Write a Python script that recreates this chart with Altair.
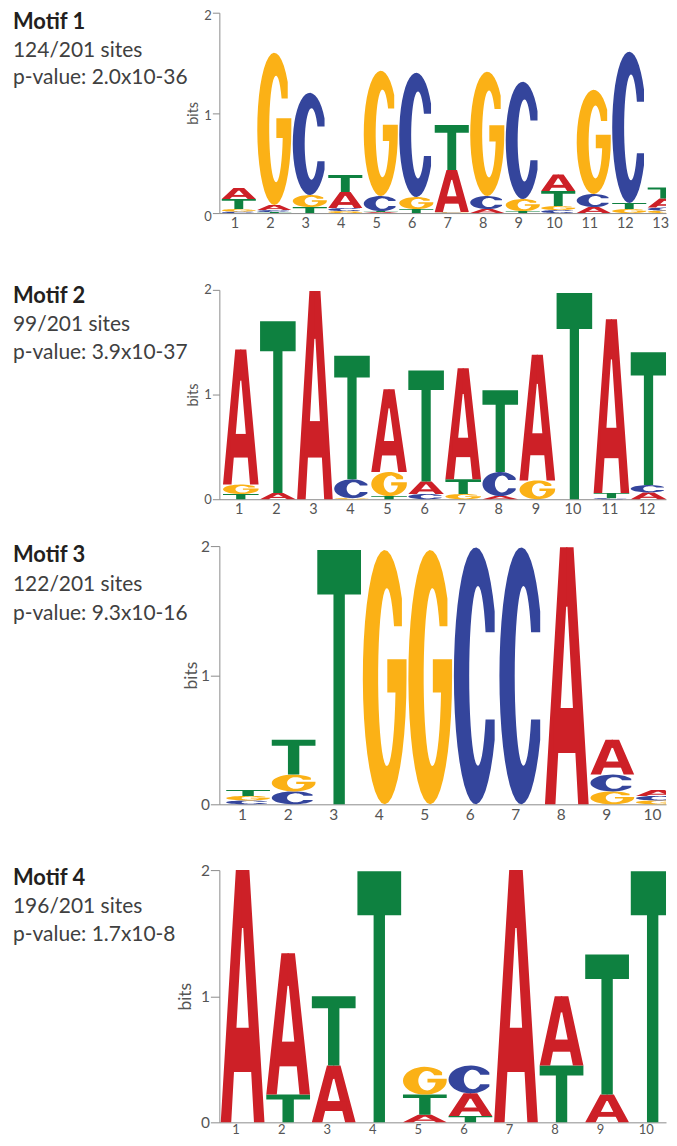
import math
import altair as alt
import pandas as pd

# ---------------- data ----------------
BASES = ["A", "C", "G", "T"]
BASE_COLORS = ["#CD2027", "#34459C", "#FBB116", "#0E8140"]

TITLES = ["Motif 1", "Motif 2", "Motif 3", "Motif 4"]
SITES = ["124/201 sites", "99/201 sites", "122/201 sites", "196/201 sites"]
PVALUES = ["p-value: 2.0x10-36", "p-value: 3.9x10-37",
           "p-value: 9.3x10-16", "p-value: 1.7x10-8"]

# information (bits) of each base at each motif position
M1_A = [0.11, 0.05, 0.00, 0.16, 0.01, 0.00, 0.42, 0.04, 0.00, 0.165, 0.06, 0.00, 0.09]
M1_C = [0.015, 0.02, 1.02, 0.03, 0.15, 1.24, 0.005, 0.13, 1.17, 0.03, 0.13, 1.51, 0.03]
M1_G = [0.025, 1.52, 0.12, 0.02, 1.25, 0.12, 0.005, 1.24, 0.12, 0.04, 1.04, 0.04, 0.025]
M1_T = [0.10, 0.01, 0.06, 0.17, 0.01, 0.04, 0.45, 0.00, 0.02, 0.15, 0.00, 0.06, 0.11]

M2_A = [1.29, 0.06, 1.99, 0.00, 0.79, 0.12, 1.06, 0.03, 1.20, 0.00, 1.66, 0.065]
M2_C = [0.00, 0.00, 0.00, 0.18, 0.00, 0.05, 0.00, 0.23, 0.00, 0.00, 0.01, 0.07]
M2_G = [0.09, 0.00, 0.00, 0.01, 0.23, 0.00, 0.05, 0.00, 0.18, 0.00, 0.00, 0.00]
M2_T = [0.05, 1.64, 0.00, 1.18, 0.03, 1.06, 0.14, 0.78, 0.00, 1.97, 0.05, 1.27]

M3_A = [0.00, 0.00, 0.00, 0.00, 0.00, 0.00, 0.00, 1.99, 0.27, 0.045]
M3_C = [0.03, 0.10, 0.00, 0.00, 0.00, 1.99, 1.99, 0.00, 0.13, 0.035]
M3_G = [0.035, 0.13, 0.00, 1.97, 1.97, 0.00, 0.00, 0.00, 0.10, 0.03]
M3_T = [0.045, 0.27, 1.97, 0.00, 0.00, 0.00, 0.00, 0.00, 0.00, 0.00]

M4_A = [2.00, 1.12, 0.45, 0.00, 0.06, 0.18, 2.00, 0.55, 0.22, 0.00]
M4_C = [0.00, 0.00, 0.00, 0.00, 0.00, 0.22, 0.00, 0.00, 0.00, 0.00]
M4_G = [0.00, 0.00, 0.00, 0.00, 0.22, 0.00, 0.00, 0.00, 0.00, 0.00]
M4_T = [0.00, 0.22, 0.55, 1.99, 0.16, 0.05, 0.00, 0.45, 1.11, 1.99]

MOTIFS = [
    (M1_A, M1_C, M1_G, M1_T),
    (M2_A, M2_C, M2_G, M2_T),
    (M3_A, M3_C, M3_G, M3_T),
    (M4_A, M4_C, M4_G, M4_T),
]

# ---------------- layout / style ----------------
FONT = "Lato"
LAYOUT = [
    dict(xdom=(0.452, 13.036), width=448, height=201, ytop=0, lab_off=-4.5, ylab_off=3,
         fy=13, fx=14.5, lpad=3, ft=14.5, tick=7, tpad=3, text_y=(16, 44, 72)),
    dict(xdom=(0.422, 12.472), width=448, height=287, ytop=77, lab_off=-2, ylab_off=0,
         fy=13, fx=14.5, lpad=3, ft=14.5, tick=7, tpad=3, text_y=(90, 118, 146)),
    dict(xdom=(0.369, 10.179), width=448, height=306, ytop=47, lab_off=-6, ylab_off=0,
         fy=15.5, fx=15.5, lpad=3, ft=17.5, tick=9, tpad=0, text_y=(63, 92, 121)),
    dict(xdom=(0.49, 10.293), width=448, height=319, ytop=66, lab_off=-7, ylab_off=0,
         fy=15.5, fx=13, lpad=1, ft=17.5, tick=9, tpad=6, text_y=(81, 109, 137)),
]
LETTER_W = 0.96


# ---------------- glyph outlines (unit box) ----------------
def arc(cx, cy, rx, ry, a0, a1, n=36):
    pts = []
    for i in range(n + 1):
        t = math.radians(a0 + (a1 - a0) * i / n)
        pts.append((cx + rx * math.cos(t), cy + ry * math.sin(t)))
    return pts


def glyph(base):
    if base == "T":
        return [[(0, 1), (1, 1), (1, 0.825), (0.63, 0.825), (0.63, 0),
                 (0.37, 0), (0.37, 0.825), (0, 0.825)]]
    if base == "A":
        left = [(0, 0), (0.24, 0), (0.485, 0.77), (0.515, 0.77), (0.515, 1), (0.345, 1)]
        right = [(1 - u, v) for u, v in left]
        bar = [(0.2, 0.2), (0.8, 0.2), (0.8, 0.375), (0.2, 0.375)]
        return [left, right, bar]
    icx, irx, iry = 0.55, 0.2, 0.35
    if base == "C":
        ai = math.degrees(math.asin(0.17 / iry))
        yt = 0.5 + iry * math.sin(math.radians(ai))
        outer = arc(0.5, 0.5, 0.5, 0.5, 30, 330)
        xo = outer[0][0]
        inner = arc(icx, 0.5, irx, iry, 360 - ai, ai)
        return [outer + [(xo, 1 - yt)] + inner + [(xo, yt)]]
    # G
    ai = math.degrees(math.asin(0.20 / iry))
    yt = 0.5 + iry * math.sin(math.radians(ai))
    outer = arc(0.5, 0.5, 0.5, 0.5, 38, 360)
    xo = outer[0][0]
    ab = math.degrees(math.asin((0.44 - 0.5) / iry))
    xb = icx + irx * math.cos(math.radians(ab))
    inner = arc(icx, 0.5, irx, iry, 360 + ab, ai)
    return [outer + [(1.0, 0.57), (0.56, 0.57), (0.56, 0.44), (xb, 0.44)] + inner + [(xo, yt)]]


def clip_right(poly, xmax):
    """Sutherland-Hodgman clip of a polygon to x <= xmax."""
    out = []
    n = len(poly)
    for i in range(n):
        cur, prev = poly[i], poly[i - 1]
        cin, pin = cur[0] <= xmax, prev[0] <= xmax
        if cin != pin:
            t = (xmax - prev[0]) / (cur[0] - prev[0])
            out.append((xmax, prev[1] + t * (cur[1] - prev[1])))
        if cin:
            out.append(cur)
    return out


def logo_frame(cols, xmax):
    rows = []
    pid = 0
    n = len(cols[0])
    for i in range(n):
        stack = sorted([(cols[b][i], BASES[b]) for b in range(4) if cols[b][i] > 0],
                       key=lambda s: s[0])
        y0 = 0.0
        for h, base in stack:
            for poly in glyph(base):
                pts = [((i + 1) - LETTER_W / 2 + u * LETTER_W, y0 + v * h) for u, v in poly]
                pts = clip_right(pts, xmax)
                if len(pts) < 3:
                    continue
                for k, (x, y) in enumerate(pts):
                    rows.append(dict(pid=pid, k=k, base=base, x=x, y=y))
                pid += 1
            y0 += h
    return pd.DataFrame(rows)


color_scale = alt.Scale(domain=BASES, range=BASE_COLORS)
panels = []
for m, cols in enumerate(MOTIFS):
    L = LAYOUT[m]
    n = len(cols[0])
    df = logo_frame(cols, L["xdom"][1])
    letters = alt.Chart(df).mark_line(
        filled=True, interpolate="linear-closed", strokeWidth=0
    ).encode(
        x=alt.X("x:Q",
                scale=alt.Scale(domain=list(L["xdom"]), nice=False, zero=False),
                axis=alt.Axis(values=list(range(1, n + 1)), format="d", title=None,
                              ticks=False, tickSize=0, labelPadding=L["lpad"],
                              labelOffset=L["lab_off"], labelFontSize=L["fx"],
                              labelColor="#555555", labelFont=FONT, grid=False,
                              domainColor="#8c8c8c", labelFlush=False,
                              labelOverlap=False)),
        y=alt.Y("y:Q",
                scale=alt.Scale(domain=[0, 2], range=[L["height"], L["ytop"]], nice=False),
                axis=alt.Axis(tickCount=2, format="d", title="bits",
                              grid=False, tickSize=L["tick"], labelPadding=1,
                              labelOverlap=False, labelOffset=L["ylab_off"],
                              labelFontSize=L["fy"], labelColor="#555555",
                              labelFont=FONT, tickColor="#8c8c8c",
                              domainColor="#8c8c8c", titleFont=FONT,
                              titleFontSize=L["ft"], titleFontWeight="normal",
                              titleColor="#555555", titlePadding=L["tpad"])),
        detail="pid:N",
        order="k:Q",
        color=alt.Color("base:N", scale=color_scale, legend=None),
    )
    t1 = alt.Chart(pd.DataFrame({"t": [TITLES[m]]})).mark_text(
        align="left", baseline="alphabetic", font=FONT, fontSize=22,
        fontWeight="bold", color="#231F20"
    ).encode(text="t:N", x=alt.value(-207), y=alt.value(L["text_y"][0]))
    t2 = alt.Chart(pd.DataFrame({"t": [SITES[m]]})).mark_text(
        align="left", baseline="alphabetic", font=FONT, fontSize=21,
        color="#404040"
    ).encode(text="t:N", x=alt.value(-207), y=alt.value(L["text_y"][1]))
    t3 = alt.Chart(pd.DataFrame({"t": [PVALUES[m]]})).mark_text(
        align="left", baseline="alphabetic", font=FONT, fontSize=21,
        color="#404040"
    ).encode(text="t:N", x=alt.value(-207), y=alt.value(L["text_y"][2]))
    panels.append(alt.layer(letters, t1, t2, t3).properties(
        width=L["width"], height=L["height"]))

chart = alt.vconcat(*panels, spacing=0, bounds="flush").properties(
    padding={"left": 5, "top": 0, "right": 0, "bottom": -1}
).configure_view(stroke=None)

chart.save("out.html", embed_options={"renderer": "svg", "actions": False})
